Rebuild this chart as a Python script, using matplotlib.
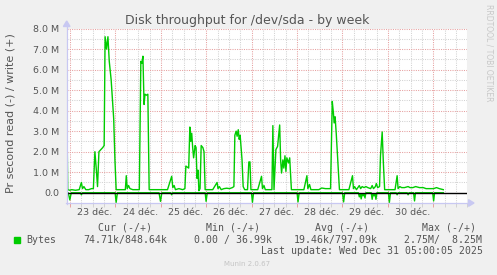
import matplotlib
matplotlib.use("Agg")
import matplotlib.pyplot as plt
import matplotlib.transforms as mtransforms
from matplotlib.lines import Line2D
from matplotlib.patches import Polygon, Rectangle

W, H = 497, 275

# ---------------- data (hours since 2025-12-23 00:00, values in MB/s) -------------
write_hours = [-1.75, -1.25, -0.15, 0.85, 2.83, 4.82, 5.96, 6.56, 7.3, 8.3, 9.8, 11.3, 12.3,
               13.1, 13.8, 14.5, 15.25, 16.25, 17.25, 18.0, 18.5, 19.25, 20.0, 20.7, 21.7,
               23.05, 23.7, 24.35, 25.7, 27.7, 29.2, 29.7, 30.2, 30.9, 31.65, 33.15, 34.6,
               36.6, 37.4, 37.9, 38.5, 39.1, 39.6, 40.35, 41.1, 41.8, 43.6, 45.6, 47.55,
               49.5, 51.5, 53.7, 54.3, 55.0, 55.7, 57.5, 59.5, 60.7, 61.2, 62.7, 63.3,
               63.8, 64.3, 64.8, 65.3, 66.1, 66.6, 67.1, 67.6, 68.1, 68.7, 69.3, 70.2,
               70.8, 71.4, 73.4, 75.4, 77.7, 78.2, 78.9, 79.9, 81.3, 82.8, 84.3, 85.8,
               86.6, 87.1, 87.8, 88.3, 88.9, 89.4, 89.9, 90.9, 91.5, 92.3, 93.8, 94.5,
               95.1, 95.6, 97.2, 99.2, 101.2, 101.7, 102.5, 103.2, 105.2, 106.7, 107.2,
               107.8, 108.8, 109.7, 110.8, 111.3, 111.8, 112.5, 113.0, 113.6, 114.1,
               114.6, 115.5, 116.1, 117.0, 119.1, 121.6, 123.6, 125.2, 125.7, 126.6,
               127.3, 129.0, 131.5, 133.0, 135.0, 136.5, 137.7, 138.6, 139.2, 139.6,
               140.1, 140.7, 141.8, 142.4, 143.9, 145.9, 147.4, 149.3, 149.8, 150.4,
               151.4, 152.9, 153.6, 154.4, 155.4, 156.4, 157.4, 158.9, 159.7, 160.4,
               161.4, 161.9, 162.6, 163.6, 164.1, 165.0, 165.6, 166.3, 167.8, 169.8,
               171.8, 172.9, 173.4, 174.3, 175.3, 176.8, 178.7, 179.7, 181.2, 182.7,
               184.7, 186.7, 188.2, 190.2, 192.2, 193.7, 195.2, 197.3]
write_values = [4.2, 0.15, 0.12, 0.15, 0.12, 0.15, 0.5, 0.2, 0.3, 0.15, 0.15, 0.2, 0.2,
                2.0, 1.2, 0.3, 2.0, 2.1, 2.2, 2.3, 7.6, 7.0, 7.6, 6.4, 5.5,
                3.6, 1.6, 0.15, 0.15, 0.15, 0.15, 0.83, 0.2, 0.35, 0.2, 0.15, 0.15,
                0.15, 6.4, 6.3, 6.65, 4.3, 4.8, 4.75, 4.8, 0.15, 0.15, 0.15, 0.15,
                0.15, 0.15, 0.8, 0.25, 0.35, 0.15, 0.2, 0.15, 0.2, 1.3, 1.2, 3.2,
                2.5, 2.9, 2.2, 1.7, 2.3, 2.2, 0.7, 1.1, 0.1, 0.2, 2.3, 2.2,
                2.0, 0.15, 0.15, 0.15, 0.5, 0.2, 0.3, 0.15, 0.2, 0.22, 0.2, 0.25,
                0.3, 2.8, 3.0, 2.75, 3.07, 2.6, 2.8, 1.6, 0.3, 0.15, 0.15, 1.5,
                1.5, 0.15, 0.15, 0.15, 0.8, 0.2, 0.35, 0.15, 0.15, 0.15, 3.27,
                0.15, 2.1, 2.26, 3.3, 1.6, 0.96, 1.6, 1.2, 1.8, 1.04,
                1.7, 1.45, 1.7, 0.15, 0.15, 0.15, 0.15, 0.83, 0.2, 0.4,
                0.15, 0.15, 0.15, 0.23, 0.2, 0.2, 0.2, 4.45, 3.9, 3.4,
                3.7, 2.9, 1.1, 0.15, 0.15, 0.15, 0.15, 0.83, 0.2, 0.3,
                0.15, 0.35, 0.2, 0.3, 0.25, 0.3, 0.25, 0.2, 0.35, 0.2,
                0.3, 0.45, 0.25, 0.3, 1.8, 2.96, 1.5, 0.15, 0.15, 0.15,
                0.15, 0.83, 0.2, 0.3, 0.25, 0.25, 0.3, 0.25, 0.25, 0.3,
                0.25, 0.25, 0.2, 0.2, 0.2, 0.25, 0.2, 0.15]

read_hours = [-1.75, -1.0, -0.15, 0.6, 5.5, 5.96, 6.5, 23.8, 24.35, 25.0, 47.0, 47.8, 48.5,
              53.2, 53.7, 54.2, 71.4, 71.9, 72.5, 95.9, 96.4, 97.0, 120.0, 120.5, 121.1,
              144.0, 144.6, 145.2, 152.4, 152.9, 153.4, 153.9, 154.4, 154.9, 155.4,
              155.9, 156.4, 159.2, 159.7, 160.2, 160.7, 161.2, 161.7, 162.2, 168.3,
              168.8, 169.4, 172.4, 172.9, 173.4, 178.2, 178.7, 179.2, 181.6, 182.1,
              182.6, 191.7, 192.2, 192.7, 197.3]
read_values = [0, 0, -0.35, 0, 0, -0.1, 0, 0, -0.47, 0, 0, -0.42, 0,
               0, -0.1, 0, 0, -0.42, 0, 0, -0.47, 0, 0, -0.45, 0,
               0, -0.45, 0, 0, -0.2, -0.05, -0.3, -0.05, -0.15, -0.05,
               -0.25, 0, 0, -0.32, -0.05, -0.15, -0.05, -0.32, 0, 0,
               -0.47, 0, 0, -0.1, 0, 0, -0.1, 0, 0, -0.4,
               0, 0, -0.4, 0, 0]

day_labels = ["23 déc.", "24 déc.", "25 déc.", "26 déc.", "27 déc.", "28 déc.",
              "29 déc.", "30 déc."]
y_ticks = [0, 1, 2, 3, 4, 5, 6, 7, 8]
y_tick_labels = ["0.0", "1.0 M", "2.0 M", "3.0 M", "4.0 M", "5.0 M", "6.0 M",
                 "7.0 M", "8.0 M"]

title = "Disk throughput for /dev/sda - by week"
y_label = "Pr second read (-) / write (+)"
series_name = "Bytes"
legend_headers = ["Cur (-/+)", "Min (-/+)", "Avg (-/+)", "Max (-/+)"]
legend_values = ["74.71k/848.64k", "0.00 / 36.99k", "19.46k/797.09k", "2.75M/  8.25M"]
last_update = "Last update: Wed Dec 31 05:00:05 2025"
footer = "Munin 2.0.67"
side_text = "RRDTOOL / TOBI OETIKER"

# ---------------- styling ----------------
GREEN = "#00cc00"
TXT = "#555555"
MAJ = "#e6a0a0"
MIN = "#d2d2d2"
AXC = "#c8c8f2"
BG = "#f0f0f0"


def fx(px):
    return px / W


def fy(py):
    return 1 - py / H


fig = plt.figure(figsize=(W / 100, H / 100), dpi=100, facecolor=BG)

L, R, T, B = 66.7, 467.3, 28.5, 203.0
ax = fig.add_axes([fx(L), fy(B), fx(R) - fx(L), fy(T) - fy(B)])
ax.set_facecolor("white")
ax.set_xlim(-1.8, 197.3)
ax.set_ylim(-0.488, 8.0)

for s in ax.spines.values():
    s.set_visible(False)

# grid
ndays = len(day_labels)
midnights = [24 * k for k in range(ndays + 1)]
ax.set_xticks(midnights)
ax.set_xticks([h for h in range(-0, 24 * (ndays + 1), 6)], minor=True)
ax.set_xticklabels([])
ax.set_yticks(y_ticks)
ax.set_yticklabels(y_tick_labels)
ax.set_yticks([y + 0.5 for y in y_ticks[:-1]] + [-0.5], minor=True)
ax.set_axisbelow(True)
ax.grid(which="major", color=MAJ, linestyle=(0, (1, 1.2)), linewidth=0.75)
ax.grid(which="minor", color=MIN, linestyle=(0, (1, 1.2)), linewidth=0.75)
ax.tick_params(axis="x", which="major", length=3, color=MAJ, width=0.7, direction="out")
ax.tick_params(axis="x", which="minor", length=3, color=MIN, width=0.7, direction="out")
ax.tick_params(axis="y", which="both", length=0, pad=5.5, labelsize=6.8, labelcolor=TXT)

# data
ax.plot(read_hours, read_values, color=GREEN, linewidth=1.0, zorder=3)
ax.plot(write_hours, write_values, color=GREEN, linewidth=1.0, zorder=3)
ax.axhline(0, color="black", linewidth=1.0, zorder=4)

# day labels at noon
tr = mtransforms.blended_transform_factory(ax.transData, fig.transFigure)
for k, lab in enumerate(day_labels):
    ax.text(24 * k + 13, fy(212.7), lab, transform=tr, ha="center", va="center",
            fontsize=6.8, color=TXT, clip_on=False)

# axis lines with arrows
fig.add_artist(Line2D([fx(L), fx(L)], [fy(B + 1), fy(25)], color=AXC, linewidth=0.9))
fig.add_artist(Line2D([fx(L - 1), fx(469)], [fy(B), fy(B)], color=AXC, linewidth=0.9))
fig.add_artist(Polygon([[fx(L), fy(21.0)], [fx(L - 3.3), fy(26.5)], [fx(L + 3.3), fy(26.5)]],
                       closed=True, color=AXC, transform=fig.transFigure))
fig.add_artist(Polygon([[fx(474), fy(B)], [fx(468.5), fy(B - 3.3)], [fx(468.5), fy(B + 3.3)]],
                       closed=True, color=AXC, transform=fig.transFigure))

# texts
fig.text(fx(247.5), fy(24), title, ha="center", va="baseline", fontsize=9, color=TXT)
fig.text(fx(11), fy(113.5), y_label, ha="center", va="center", rotation=90,
         fontsize=8.0, color=TXT)
fig.text(fx(489), fy(53), side_text, ha="center", va="center", rotation=270,
         fontsize=5.5, color="#c8c8c8")

mono = "DejaVu Sans Mono"
fs = 7.1
header_centers = [125, 233.3, 341.7, 449.3]
value_lefts = [83.3, 194.3, 293.3, 404.3]
for hc, hd in zip(header_centers, legend_headers):
    fig.text(fx(hc), fy(227.7), hd, ha="center", va="center", family=mono, fontsize=fs,
             color=TXT)
for vl, vv in zip(value_lefts, legend_values):
    fig.text(fx(vl), fy(240), vv, ha="left", va="center", family=mono, fontsize=fs,
             color=TXT)
fig.add_artist(Rectangle((fx(13.5), fy(242.8)), fx(6), 6 / H, color=GREEN,
                         transform=fig.transFigure))
fig.text(fx(26.7), fy(240), series_name, ha="left", va="center", family=mono,
         fontsize=fs, color=TXT)
fig.text(fx(482.7), fy(251), last_update, ha="right", va="center", family=mono,
         fontsize=fs, color=TXT)
fig.text(fx(247.5), fy(264), footer, ha="center", va="center", fontsize=5,
         color="#c4c4c4")

fig.savefig("out.png", dpi=100, facecolor=BG)
